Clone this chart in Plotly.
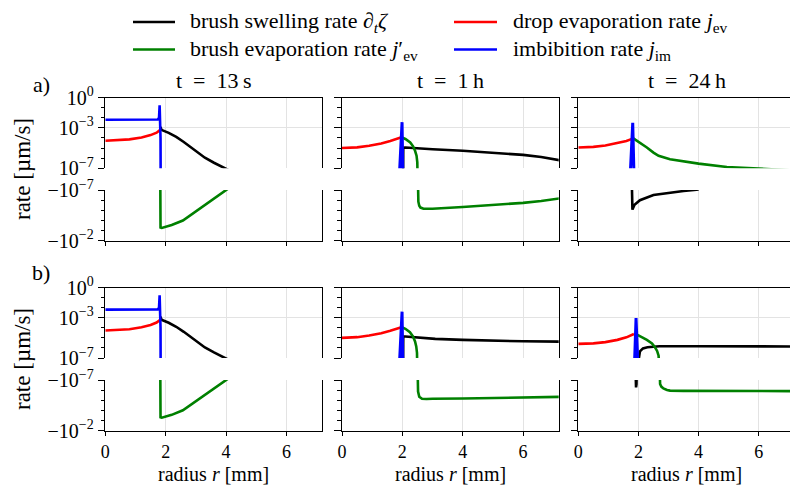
import plotly.graph_objects as go

# ---------------- data (rates in um/s, signed) ----------------
# t = 13 s (panels a and b look identical)
R13_RED = [0, 0.4, 0.8, 1.2, 1.5, 1.7, 1.82]
V13_RED = [5.37e-5, 5.75e-5, 7.24e-5, 1.12e-4, 1.91e-4, 3.31e-4, 6.31e-4]
R13_BLUE = [0, 1.65, 1.74, 1.78, 1.80, 1.83, 1.835]
V13_BLUE = [6.31e-3, 6.31e-3, 6.76e-3, 1.0e-2, 0.17, 1e-4, 1e-9]
R13_BLACK = [1.83, 1.86, 2.1, 2.35, 2.6, 2.8, 3.0, 3.3, 3.6, 4.0, 4.1]
V13_BLACK = [1.26e-3, 6.31e-4, 3.16e-4, 1.26e-4, 3.98e-5, 1.41e-5, 4.47e-6, 1.12e-6,
             3.55e-7, 1.0e-7, 6.31e-8]
R13_GREEN = [1.82, 1.83, 1.87, 2.2, 2.57, 3.12, 3.5, 4.0, 4.1]
V13_GREEN = [-1e-9, -5.0e-4, -5.37e-4, -2.82e-4, -1.0e-4, -6.76e-6, -1.12e-6, -1e-7, -6.31e-8]

# t = 1 h, panel a
RA1_RED = [0, 0.5, 0.9, 1.3, 1.6, 1.8, 1.97]
VA1_RED = [1e-5, 1.17e-5, 1.70e-5, 2.82e-5, 5.01e-5, 7.59e-5, 1.15e-4]
RA1_BLUE = [1.905, 1.99, 2.015]
VA1_BLUE = [3.16e-8, 3.63e-3, 3.16e-8]
RA1_GREEN_P = [1.98, 2.1, 2.26, 2.35, 2.42, 2.47, 2.495, 2.505, 2.51]
VA1_GREEN_P = [1.15e-4, 7.94e-5, 3.63e-5, 1.58e-5, 5.37e-6, 1.78e-6, 3.98e-7, 5.01e-8, 1e-9]
RA1_GREEN_N = [2.51, 2.515, 2.53, 2.56, 2.6, 2.7, 2.85, 3.0, 4.0, 5.0, 6.0, 6.6, 7.2]
VA1_GREEN_N = [-1e-9, -2.51e-7, -1.41e-6, -3.55e-6, -5.37e-6, -7.08e-6, -7.41e-6, -7.08e-6,
               -4.68e-6, -3.16e-6, -1.86e-6, -1.20e-6, -6.76e-7]
RA1_BLACK = [2.02, 2.03, 2.1, 2.3, 3.0, 4.0, 5.0, 6.0, 6.6, 7.2]
VA1_BLACK = [1e-9, 1.07e-5, 1.12e-5, 1e-5, 7.59e-6, 5.37e-6, 3.55e-6, 2.14e-6, 1.32e-6, 6.31e-7]

# t = 24 h, panel a
RA24_RED = [0, 0.5, 0.9, 1.3, 1.6, 1.83]
VA24_RED = [1.15e-5, 1.32e-5, 1.78e-5, 2.95e-5, 5.01e-5, 9.12e-5]
RA24_BLUE = [1.73, 1.81, 1.85]
VA24_BLUE = [3.16e-8, 3.16e-3, 3.16e-8]
RA24_GREEN = [1.83, 2.0, 2.28, 2.5, 2.67, 3.05, 3.5, 4.0, 4.94, 5.5, 6.0, 6.5, 7.1]
VA24_GREEN = [9.12e-5, 4.47e-5, 1.15e-5, 3.55e-6, 1.70e-6, 7.94e-7, 4.79e-7, 2.88e-7,
              1.35e-7, 1.12e-7, 1.0e-7, 7.94e-8, 6.31e-8]
RA24_BLACK = [1.77, 1.775, 1.80, 1.87, 2.05, 2.5, 3.05, 3.5, 3.85, 4.0]
VA24_BLACK = [-1e-9, -3.16e-7, -8.51e-6, -2.82e-6, -1e-6, -3.16e-7, -1.78e-7, -1.26e-7, -1e-7, -8.91e-8]

# t = 1 h, panel b
RB1_RED = [0, 0.5, 0.9, 1.3, 1.6, 1.8, 1.97]
VB1_RED = [1e-5, 1.17e-5, 1.70e-5, 2.82e-5, 5.01e-5, 7.59e-5, 1.15e-4]
RB1_BLUE = [1.905, 1.99, 2.015]
VB1_BLUE = [3.16e-8, 3.98e-3, 3.16e-8]
RB1_GREEN_P = [1.98, 2.1, 2.25, 2.35, 2.42, 2.46, 2.485, 2.495, 2.5]
VB1_GREEN_P = [1.15e-4, 7.94e-5, 3.63e-5, 1.41e-5, 4.47e-6, 1.41e-6, 3.16e-7, 5.01e-8, 1e-9]
RB1_GREEN_N = [2.5, 2.505, 2.52, 2.56, 2.65, 2.8, 3.0, 4.0, 5.0, 6.0, 7.2]
VB1_GREEN_N = [-1e-9, -2.51e-7, -1.41e-6, -4.47e-6, -7.08e-6, -7.59e-6, -7.24e-6, -6.76e-6,
               -6.03e-6, -5.37e-6, -4.68e-6]
RB1_BLACK = [2.02, 2.03, 2.1, 2.4, 3.09, 4.0, 5.0, 6.0, 7.2]
VB1_BLACK = [1e-9, 1.35e-5, 1.35e-5, 1.12e-5, 7.94e-6, 6.31e-6, 5.25e-6, 4.57e-6, 4.27e-6]

# t = 24 h, panel b
RB24_RED = [0, 0.5, 0.9, 1.3, 1.6, 1.85]
VB24_RED = [2.51e-6, 2.82e-6, 3.80e-6, 6.31e-6, 1.12e-5, 2.40e-5]
RB24_BLUE = [1.87, 1.92, 1.98]
VB24_BLUE = [3.16e-8, 9.12e-4, 3.16e-8]
RB24_GREEN_P = [1.9, 2.0, 2.28, 2.45, 2.55, 2.62, 2.67, 2.7, 2.71]
VB24_GREEN_P = [2.40e-5, 1.78e-5, 6.31e-6, 2.82e-6, 1.15e-6, 5.01e-7, 1.70e-7, 5.01e-8, 1e-9]
RB24_GREEN_N = [2.7, 2.705, 2.72, 2.76, 2.83, 2.95, 3.05, 3.5, 5.0, 7.1]
VB24_GREEN_N = [-1e-9, -1e-7, -2.51e-7, -4.47e-7, -6.76e-7, -9.55e-7, -1.12e-6, -1.20e-6, -1.26e-6, -1.26e-6]
RB24_BLACK_P = [1.99, 2.0, 2.05, 2.15, 2.3, 2.5, 2.7, 4.0, 5.5, 7.1]
VB24_BLACK_P = [1e-9, 5.01e-8, 4.57e-7, 8.91e-7, 1.15e-6, 1.35e-6, 1.45e-6, 1.45e-6, 1.45e-6, 1.41e-6]
RB24_BLACK_N = [1.895, 1.905, 1.92, 1.935, 1.945]
VB24_BLACK_N = [-1e-9, -3.16e-7, -5.37e-7, -2.51e-7, -1e-9]

TITLES = ["t\u2002=\u200213\u2009s", "t\u2002=\u20021\u2009h", "t\u2002=\u200224\u2009h"]
XTICKS = [0, 2, 4, 6]
TOP_TICKS = [1, 1e-3, 1e-7]
TOP_LABELS = ["10<sup>0</sup>", "10<sup>−3</sup>", "10<sup>−7</sup>"]
BOT_TICKS = [1e-7, 1e-2]
BOT_LABELS = ["−10<sup>−7</sup>", "−10<sup>−2</sup>"]
LEGEND_ORDER = ["black", "red", "green", "blue"]
LEGEND_NAMES = {
    "black": "brush swelling rate ∂<sub><i>t</i></sub><i>ζ</i>",
    "green": "brush evaporation rate <i>j</i>′<sub>ev</sub>",
    "red": "drop evaporation rate <i>j</i><sub>ev</sub>",
    "blue": "imbibition rate <i>j</i><sub>im</sub>",
}

# ---------------- layout geometry (pixels) ----------------
W, H = 790, 486
FONT = "Liberation Serif"
COLS_PX = [(105.3, 322.0), (342.0, 558.7), (578.3, 790.0)]
ROWS_PX = [(97.5, 168.3), (190.0, 240.8), (287.5, 358.0), (380.0, 430.5)]
XMAX = [7.18, 7.18, 7.04]
GRID = "#e3e3e3"
COLORS = {"black": "#000000", "green": "#008000", "red": "#ff0000", "blue": "#0000ff"}
# legend swatch positions (px): (x0, x1, y, text_x)
LEG_POS = {"black": (133, 175, 22, 188), "red": (454, 497, 22, 511),
           "green": (133, 175, 49.5, 188), "blue": (454, 497, 49.5, 511)}

fig = go.Figure()


def ax_id(n):
    return "" if n == 1 else str(n)


def add(row, col, r, v, color, width=2.6):
    n = row * 3 + col + 1
    top = row in (0, 2)
    y = list(v) if top else [-val for val in v]
    fig.add_trace(go.Scatter(
        x=r, y=y, mode="lines", line=dict(color=COLORS[color], width=width),
        xaxis="x" + ax_id(n), yaxis="y" + ax_id(n),
        name=color, showlegend=False, hoverinfo="skip"))


# panel a (rows 0,1) and b (rows 2,3); drawing order: black, green, red, blue
for base in (0, 2):
    add(base, 0, R13_BLACK, V13_BLACK, "black")
    add(base + 1, 0, R13_GREEN, V13_GREEN, "green")
    add(base, 0, R13_RED, V13_RED, "red")
    add(base, 0, R13_BLUE, V13_BLUE, "blue")

# 1 h, a
add(0, 1, RA1_BLACK, VA1_BLACK, "black")
add(0, 1, RA1_GREEN_P, VA1_GREEN_P, "green")
add(1, 1, RA1_GREEN_N, VA1_GREEN_N, "green")
add(0, 1, RA1_RED, VA1_RED, "red")
add(0, 1, RA1_BLUE, VA1_BLUE, "blue", 3)
# 24 h, a
add(1, 2, RA24_BLACK, VA24_BLACK, "black")
add(0, 2, RA24_GREEN, VA24_GREEN, "green")
add(0, 2, RA24_RED, VA24_RED, "red")
add(0, 2, RA24_BLUE, VA24_BLUE, "blue", 3)
# 1 h, b
add(2, 1, RB1_BLACK, VB1_BLACK, "black")
add(2, 1, RB1_GREEN_P, VB1_GREEN_P, "green")
add(3, 1, RB1_GREEN_N, VB1_GREEN_N, "green")
add(2, 1, RB1_RED, VB1_RED, "red")
add(2, 1, RB1_BLUE, VB1_BLUE, "blue", 3)
# 24 h, b
add(2, 2, RB24_BLACK_P, VB24_BLACK_P, "black")
add(3, 2, RB24_BLACK_N, VB24_BLACK_N, "black")
add(2, 2, RB24_GREEN_P, VB24_GREEN_P, "green")
add(3, 2, RB24_GREEN_N, VB24_GREEN_N, "green")
add(2, 2, RB24_RED, VB24_RED, "red")
add(2, 2, RB24_BLUE, VB24_BLUE, "blue", 3)

layout = {}
ytickfont = dict(family=FONT, size=20, color="black")
xtickfont = dict(family=FONT, size=18, color="black")
for row in range(4):
    for col in range(3):
        n = row * 3 + col + 1
        top = row in (0, 2)
        xd = [COLS_PX[col][0] / W, COLS_PX[col][1] / W]
        yd = [1 - ROWS_PX[row][1] / H, 1 - ROWS_PX[row][0] / H]
        layout["xaxis" + ax_id(n)] = dict(
            domain=xd, anchor="y" + ax_id(n), range=[0, XMAX[col]], automargin=False,
            showgrid=True, gridcolor=GRID, gridwidth=1, zeroline=False,
            showline=True, linecolor="black", linewidth=1.3, mirror=False,
            tickmode="array", tickvals=XTICKS, ticktext=[str(t) for t in XTICKS],
            ticks="" if top else "outside", ticklen=4.5, tickwidth=1.1, tickcolor="black",
            side="top" if top else "bottom", showticklabels=(row == 3),
            tickfont=xtickfont, fixedrange=True)
        if top:
            ya = dict(range=[-7, 0], tickvals=TOP_TICKS, ticktext=TOP_LABELS,
                      minor=dict(tickmode="array", tickvals=[1e-1, 1e-2, 1e-4, 1e-5, 1e-6],
                                 ticks="outside", ticklen=3.5, tickwidth=1, tickcolor="black",
                                 showgrid=False))
        else:
            ya = dict(range=[-2, -7], tickvals=BOT_TICKS, ticktext=BOT_LABELS,
                      minor=dict(tickmode="array", tickvals=[1e-6, 1e-5, 1e-4, 1e-3],
                                 ticks="outside", ticklen=3.5, tickwidth=1, tickcolor="black",
                                 showgrid=False))
        ya.update(type="log", domain=yd, anchor="x" + ax_id(n), tickmode="array",
                  automargin=False,
                  showgrid=True, gridcolor=GRID, gridwidth=1, zeroline=False,
                  showline=True, linecolor="black", linewidth=1.3, mirror=(col < 2),
                  ticks="outside", ticklen=6.5, tickwidth=1.1, tickcolor="black",
                  showticklabels=(col == 0), tickfont=ytickfont, fixedrange=True)
        layout["yaxis" + ax_id(n)] = ya

TXT = dict(family=FONT, size=22, color="black")
annots = []
for col in range(3):
    cx = (COLS_PX[col][0] + 108.35) / W
    annots.append(dict(text=TITLES[col], x=cx, y=1 - 80.5 / H, xref="paper", yref="paper",
                       showarrow=False, font=TXT, xanchor="center", yanchor="middle"))
    annots.append(dict(text="radius <i>r</i> [mm]", x=cx, y=0, xref="paper",
                       yref="paper", showarrow=False, font=dict(TXT, size=20),
                       borderpad=0, xanchor="center", yanchor="bottom"))
for lab, py in (("a)", 84), ("b)", 272)):
    annots.append(dict(text=lab, x=41 / W, y=1 - py / H, xref="paper", yref="paper",
                       showarrow=False, font=TXT, xanchor="center", yanchor="middle"))
for py in (169, 359):
    annots.append(dict(text="rate [µm/s]", x=22 / W, y=1 - py / H, xref="paper",
                       yref="paper", showarrow=False, textangle=-90,
                       font=dict(TXT, size=23), xanchor="center", yanchor="middle"))

shapes = []
for key in LEGEND_ORDER:
    x0, x1, py, tx = LEG_POS[key]
    shapes.append(dict(type="line", xref="paper", yref="paper", x0=x0 / W, x1=x1 / W,
                       y0=1 - py / H, y1=1 - py / H,
                       line=dict(color=COLORS[key], width=2.6)))
    annots.append(dict(text=LEGEND_NAMES[key], x=tx / W, y=1 - py / H, xref="paper",
                       yref="paper", showarrow=False, font=TXT,
                       xanchor="left", yanchor="middle"))

fig.update_layout(
    template="none",
    width=W, height=H, margin=dict(l=0, r=0, t=0, b=0, pad=0, autoexpand=False),
    paper_bgcolor="white", plot_bgcolor="white",
    font=dict(family=FONT, size=20, color="black"),
    annotations=annots, shapes=shapes,
    showlegend=False,
    **layout)

fig.write_html("out.html")
